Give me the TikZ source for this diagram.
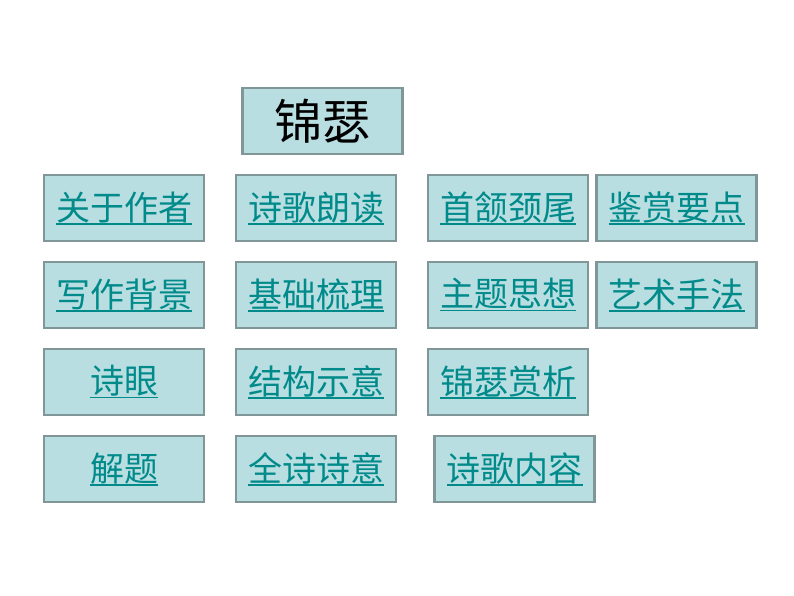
\documentclass[tikz,border=0pt]{standalone}
\usepackage{fontspec}
\newfontfamily\cjk{Noto Sans CJK SC}
\usepackage{tikz}
\usetikzlibrary{positioning}
\definecolor{boxfill}{RGB}{184,222,226}
\definecolor{boxline}{RGB}{128,150,152}
\definecolor{linkteal}{RGB}{0,138,138}
\newcommand\ulink[1]{\setbox0\hbox{#1}\rlap{\rule[-4.5pt]{\wd0}{1.8pt}}\box0}

\begin{document}
\begin{tikzpicture}[x=1pt,y=-1pt,
  linkbox/.style={draw=boxline,line width=2.2pt,fill=boxfill,minimum width=160pt,minimum height=66pt,inner sep=0pt,font=\cjk\fontsize{34}{40}\selectfont,text=linkteal},
  titlebox/.style={draw=boxline,line width=2.2pt,fill=boxfill,minimum width=160pt,minimum height=66pt,inner sep=0pt,font=\cjk\fontsize{48}{54}\selectfont,text=black}]
\useasboundingbox[fill=white] (0,0) rectangle (794,596);
\node[titlebox] (t0) at (322.5,121) {锦瑟};
\node[linkbox] (g0) at (124,208) {\ulink{关于作者}};
\node[linkbox] (g1) at (316,208) {\ulink{诗歌朗读}};
\node[linkbox] (g2) at (508,208) {\ulink{首颔颈尾}};
\node[linkbox] (g3) at (676.5,208) {\ulink{鉴赏要点}};
\node[linkbox] (g4) at (124,295) {\ulink{写作背景}};
\node[linkbox] (g5) at (316,295) {\ulink{基础梳理}};
\node[linkbox] (g6) at (508,295) {\ulink{主题思想}};
\node[linkbox] (g7) at (676.5,295) {\ulink{艺术手法}};
\node[linkbox] (g8) at (124,382) {\ulink{诗眼}};
\node[linkbox] (g9) at (316,382) {\ulink{结构示意}};
\node[linkbox] (g10) at (508,382) {\ulink{锦瑟赏析}};
\node[linkbox] (g11) at (124,469) {\ulink{解题}};
\node[linkbox] (g12) at (316,469) {\ulink{全诗诗意}};
\node[linkbox] (g13) at (514.5,469) {\ulink{诗歌内容}};
\end{tikzpicture}
\end{document}
